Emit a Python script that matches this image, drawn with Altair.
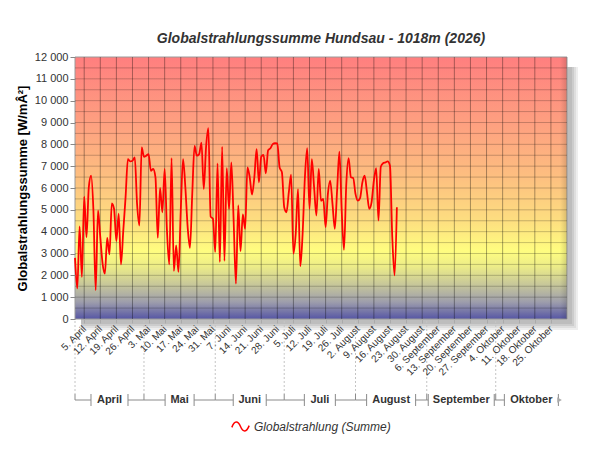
import altair as alt
import pandas as pd

# ---------------- data ----------------
start_date = "2026-04-01"
values = [
    2800, 1400, 4240, 1930, 5600, 3750, 6030, 6560, 5000, 1320,
    4970, 3750, 2540, 2080, 3720, 2960, 5300, 5040, 3570, 4820,
    2500, 4050, 5580, 7320, 7220, 7250, 7400, 5270, 4280, 7860,
    7430, 7480, 7550, 6790, 6870, 6490, 3720, 6000, 4890, 6870,
    4050, 2500, 7370, 2200, 3370, 2160, 4970, 7320, 6030, 4210,
    3260, 5730, 7930, 7480, 7550, 8080, 5960, 7860, 8740, 4690,
    4590, 3070, 7130, 2610, 7890, 2660, 6910, 5040, 7170, 4510,
    1620, 5200, 3110, 4790, 4130, 6940, 6490, 5700, 6490, 7780,
    6260, 7430, 7520, 6670, 7730, 7820, 8010, 8050, 8040, 6940,
    6720, 5120, 4890, 5800, 6610, 3000, 3900, 5950, 2410, 3900,
    6490, 7820, 5040, 7320, 6030, 4740, 6870, 5420, 5500, 4210,
    5730, 6340, 5270, 4130, 5880, 7670, 4970, 3170, 6180, 7370,
    6490, 6460, 5730, 5420, 5540, 6260, 6560, 5800, 5040, 5350,
    6340, 6910, 4510, 6970, 7130, 7170, 7220, 7020, 3750, 2000,
    5120,
]
series_name = "Globalstrahlung (Summe)"
title_text = "Globalstrahlungssumme Hundsau - 1018m (2026)"
y_title = "Globalstrahlungssumme [W/mÂ²]"

month_names = ["April", "Mai", "Juni", "Juli", "August", "September", "Oktober"]
month_starts = ["2026-04-01", "2026-05-01", "2026-06-01", "2026-07-01",
                "2026-08-01", "2026-09-01", "2026-10-01"]
month_ends = ["2026-05-01", "2026-06-01", "2026-07-01", "2026-08-01",
              "2026-09-01", "2026-10-01", "2026-11-01"]
month_label_px = [25, 17, 21, 19, 37, 54, 42]   # approx. rendered label widths

week_ticks = pd.date_range("2026-04-05", "2026-10-25", freq="7D")
y_ticks = list(range(0, 12001, 1000))
y_grid = list(range(500, 12000, 500))

# ---------------- layout ----------------
W, H = 492, 262
FONT = "Liberation Sans"
days_total = 214
px_per_day = W / days_total

fmt = "%Y-%m-%dT00:00:00"
df = pd.DataFrame({
    "date": pd.date_range(start_date, periods=len(values), freq="D").strftime(fmt),
    "value": values,
    "series": series_name,
})

x_scale = alt.Scale(domain=[alt.DateTime(year=2026, month=4, date=1),
                            alt.DateTime(year=2026, month=11, date=1)])
y_scale = alt.Scale(domain=[0, 12000], nice=False, zero=True)

label_expr_x = ("date(datum.value) + '. ' + ['Januar','Februar','März','April','Mai','Juni',"
                "'Juli','August','September','Oktober','November','Dezember'][month(datum.value)]")

x_axis = alt.Axis(
    values=[alt.DateTime(year=2026, month=int(d.month), date=int(d.day)) for d in week_ticks],
    labelExpr=label_expr_x, labelAngle=-45, labelAlign="right", labelBaseline="middle",
    labelFontSize=10, labelColor="#333333", labelFont=FONT, labelOverlap=False,
    labelFlush=False, labelPadding=4, labelLimit=300, tickSize=4, tickColor="#aaaaaa",
    domain=False, grid=False, title=None, zindex=2,
)
y_axis = alt.Axis(
    values=y_ticks, labelExpr="replace(format(datum.value, ','), ',', ' ')",
    labelFontSize=11, labelColor="#333333", labelFont=FONT, labelPadding=2,
    tickSize=5, tickColor="#888888", domain=False, grid=False,
    title=y_title, titleFont=FONT, titleFontSize=13, titleFontWeight="bold",
    titleColor="#000000", titleX=-53, titleY=H / 2, titleAngle=270,
    titleAlign="center", titleBaseline="middle", zindex=2,
)

one = pd.DataFrame({"a": [0]})

# shadow
shadows = []
for (dx, dy, col) in [(11, 11, "#eeeeee"), (9, 9, "#dedede"), (7, 7, "#cccccc"), (5, 5, "#bdbdbd")]:
    shadows.append(
        alt.Chart(one).mark_rect(color=col).encode(
            x=alt.value(6), x2=alt.value(W + dx), y=alt.value(10), y2=alt.value(H + dy)
        )
    )

grad = alt.Gradient(
    gradient="linear", x1=0, x2=0, y1=0, y2=1,
    stops=[
        alt.GradientStop(color="#ff7f7f", offset=0.0),
        alt.GradientStop(color="#fe9f80", offset=0.25),
        alt.GradientStop(color="#fdbe80", offset=0.45),
        alt.GradientStop(color="#fddd80", offset=0.62),
        alt.GradientStop(color="#fffd80", offset=0.74),
        alt.GradientStop(color="#ecec88", offset=0.80),
        alt.GradientStop(color="#c6c69a", offset=0.87),
        alt.GradientStop(color="#9e9eac", offset=0.935),
        alt.GradientStop(color="#5656a4", offset=1.0),
    ],
)
background = alt.Chart(one).mark_rect(fill=grad, stroke="#9a9a9a", strokeWidth=1).encode(
    x=alt.value(0), x2=alt.value(W), y=alt.value(0), y2=alt.value(H)
)

# bevel shading on the right edge of the plot panel
bevel_grad = alt.Gradient(
    gradient="linear", x1=0, x2=1, y1=0, y2=0,
    stops=[
        alt.GradientStop(color="rgba(0,0,0,0)", offset=0.0),
        alt.GradientStop(color="rgba(0,0,0,0.14)", offset=1.0),
    ],
)
bevel = alt.Chart(one).mark_rect(fill=bevel_grad).encode(
    x=alt.value(W - 7), x2=alt.value(W), y=alt.value(0), y2=alt.value(H)
)

hgrid = alt.Chart(pd.DataFrame({"v": y_grid})).mark_rule(
    color="#000000", opacity=0.22, strokeWidth=1
).encode(y=alt.Y("v:Q", scale=y_scale, axis=y_axis))

vgrid = alt.Chart(pd.DataFrame({"d": week_ticks.strftime(fmt)})).mark_rule(
    color="#000000", opacity=0.34, strokeWidth=1
).encode(x=alt.X("d:T", scale=x_scale, axis=x_axis))

line = alt.Chart(df).mark_line(interpolate="monotone", strokeWidth=1.8).encode(
    x=alt.X("date:T", scale=x_scale, axis=x_axis),
    y=alt.Y("value:Q", scale=y_scale, axis=y_axis),
    color=alt.Color("series:N", scale=alt.Scale(range=["#ff0000"]), legend=alt.Legend(
        orient="none", legendX=156, legendY=360, title=None,
        symbolType="M-1,0.1 C-0.7,-0.7 -0.3,-0.7 0,0 C0.3,0.7 0.7,0.7 1,-0.1",
        symbolSize=300, symbolStrokeWidth=1.5, symbolFillColor="transparent",
        labelFontSize=12, labelFontStyle="italic", labelColor="#333333", labelFont=FONT,
    )),
)

# month brackets
half_days = [(w / 2 + 6) / px_per_day for w in month_label_px]
ms = pd.to_datetime(month_starts)
me = pd.to_datetime(month_ends)
mid = ms + (me - ms) / 2
lt = mid - pd.to_timedelta(half_days, unit="D")
rt = mid + pd.to_timedelta(half_days, unit="D")
mdf = pd.DataFrame({
    "name": month_names,
    "start": ms.strftime("%Y-%m-%dT%H:%M:%S"),
    "end": me.strftime("%Y-%m-%dT%H:%M:%S"),
    "mid": mid.strftime("%Y-%m-%dT%H:%M:%S"),
    "lt": lt.strftime("%Y-%m-%dT%H:%M:%S"),
    "rt": rt.strftime("%Y-%m-%dT%H:%M:%S"),
})
BY = H + 81
bcol = "#8a8a8a"
mbase = alt.Chart(mdf)
seg_left = mbase.mark_rule(color=bcol).encode(
    x=alt.X("start:T", scale=x_scale, axis=x_axis), x2="lt:T", y=alt.value(BY))
seg_right = mbase.transform_filter(alt.datum.name != "Oktober").mark_rule(color=bcol).encode(
    x=alt.X("rt:T", scale=x_scale, axis=x_axis), x2="end:T", y=alt.value(BY))
tick_l = mbase.mark_rule(color=bcol).encode(
    x=alt.X("lt:T", scale=x_scale, axis=x_axis), y=alt.value(BY - 6), y2=alt.value(BY + 6))
tick_r = mbase.mark_rule(color=bcol).encode(
    x=alt.X("rt:T", scale=x_scale, axis=x_axis), y=alt.value(BY - 6), y2=alt.value(BY + 6))
bound_dash = mbase.mark_rule(color="#c4c4c4", strokeDash=[2, 2]).encode(
    x=alt.X("start:T", scale=x_scale, axis=x_axis), y=alt.value(H + 2), y2=alt.value(BY - 6))
bound_solid = mbase.mark_rule(color=bcol).encode(
    x=alt.X("start:T", scale=x_scale, axis=x_axis), y=alt.value(BY - 6), y2=alt.value(BY))
mtext = mbase.mark_text(fontWeight="bold", fontSize=11, font=FONT, color="#333333",
                        baseline="middle", align="center").encode(
    x=alt.X("mid:T", scale=x_scale, axis=x_axis), y=alt.value(BY), text="name:N")
arrow = alt.Chart(pd.DataFrame({"d": ["2026-10-28T18:00:00"]})).mark_point(
    shape="triangle-right", filled=True, color="#aaaaaa", size=28, opacity=1).encode(
    x=alt.X("d:T", scale=x_scale, axis=x_axis), y=alt.value(BY))

chart = alt.layer(
    *shadows, background, bevel, hgrid, vgrid, line,
    bound_dash, bound_solid, seg_left, seg_right, tick_l, tick_r, mtext, arrow,
).properties(
    width=W, height=H,
    autosize=alt.AutoSizeParams(type="none"),
    padding={"left": 67, "top": 49, "right": 25, "bottom": 120},
    title=alt.TitleParams(text=title_text, font=FONT, fontSize=14, fontWeight="bold",
                          fontStyle="italic", color="#333333", offset=5, anchor="middle"),
).configure(font=FONT).configure_view(strokeWidth=0)

chart.save("out.html", embed_options={"renderer": "svg", "actions": False})
